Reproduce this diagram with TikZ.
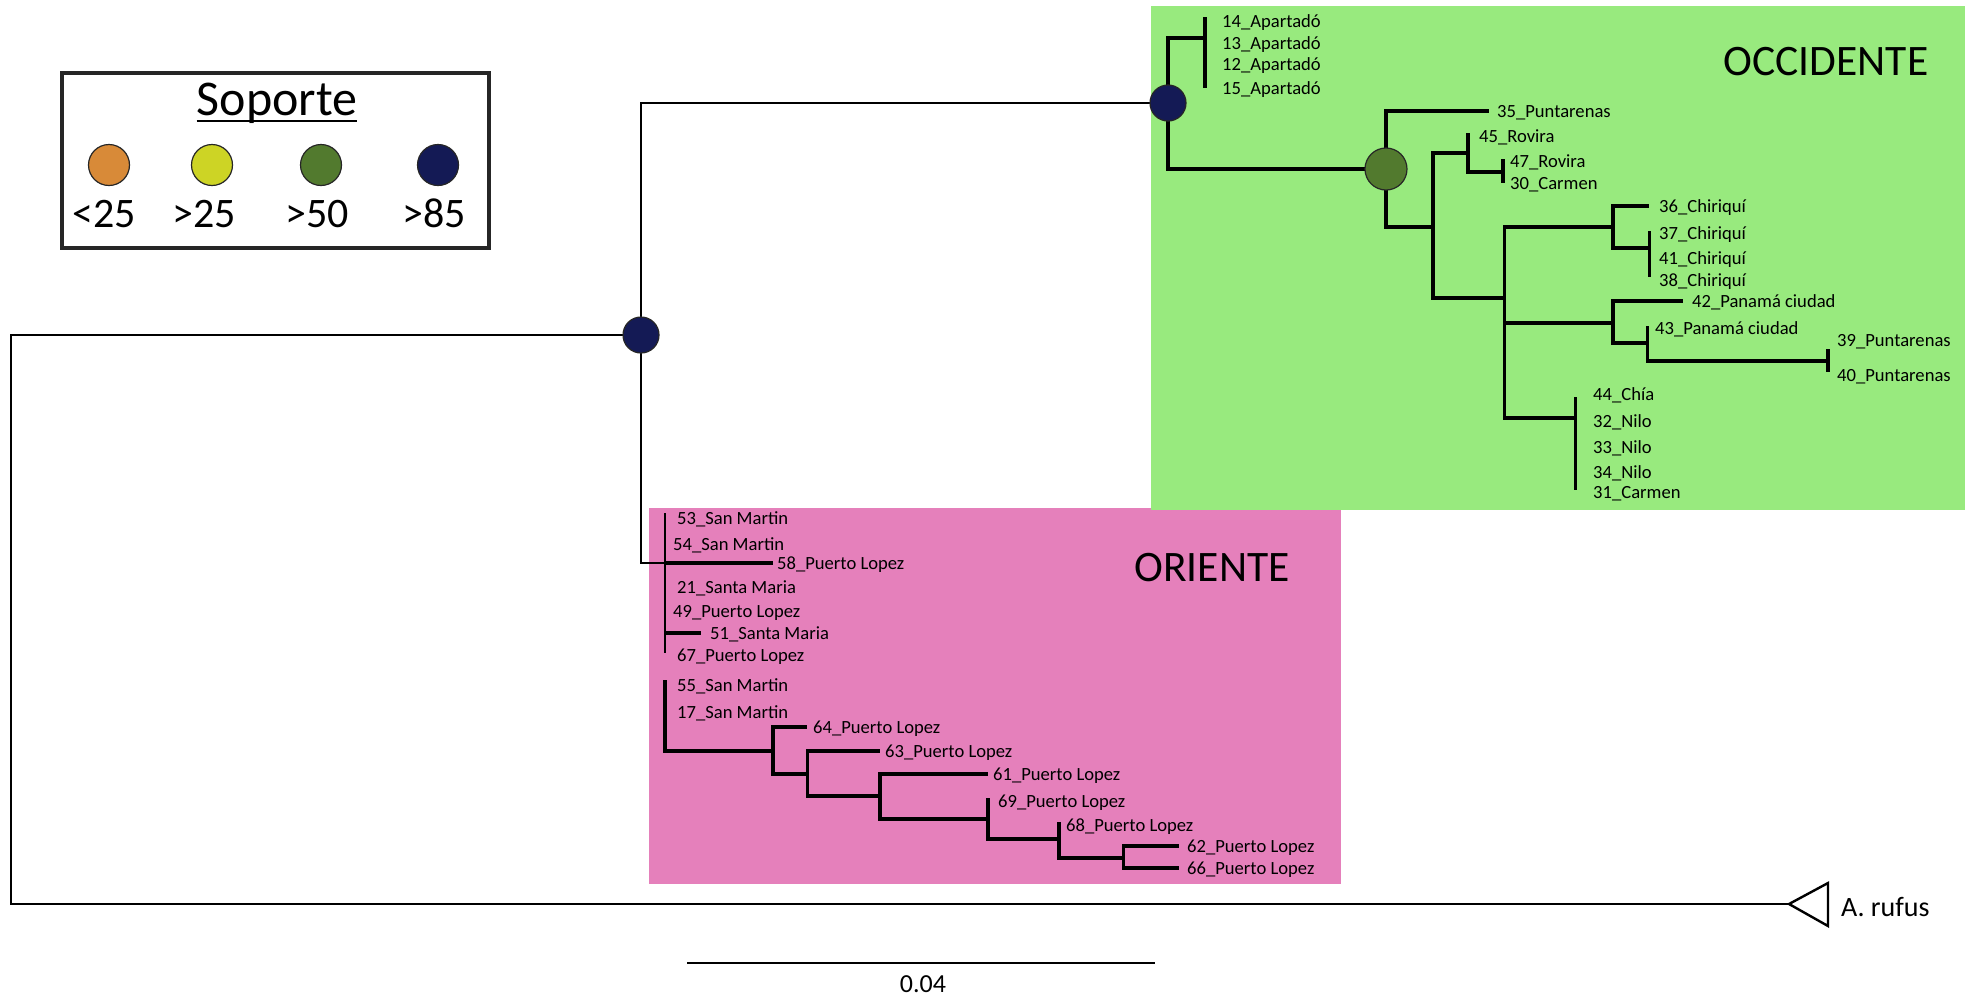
\documentclass[tikz,border=0pt]{standalone}
\usepackage{fontspec}
\setmainfont{Carlito}
\definecolor{occgreen}{RGB}{152,234,126}
\definecolor{oripink}{RGB}{229,128,187}
\definecolor{supnavy}{RGB}{20,26,85}
\definecolor{supgreen}{RGB}{82,122,46}
\definecolor{supyellow}{RGB}{205,212,37}
\definecolor{suporange}{RGB}{216,138,56}

\begin{document}
\begin{tikzpicture}[x=1pt, y=-1pt,
    branch/.style={line width=2.8pt, black},
    clade/.style={line width=3.4pt, black},
    tolabel/.style={clade, shorten >=#1},
    tolabel/.default=6pt,
    leaf/.style={anchor=west, inner sep=0pt, text height=12pt, text depth=0pt, font=\fontsize{18.6}{20}\selectfont},
    title/.style={inner sep=0pt, text height=28pt, text depth=0pt, font=\fontsize{43.5}{46}\selectfont},
    supdot/.style={circle, draw=black!85, line width=1.2pt, inner sep=0pt, minimum size=#1},
    legendbox/.style={rectangle, draw=black!85, line width=4pt, minimum width=427pt, minimum height=175pt},
    legendnum/.style={inner sep=0pt, text height=27pt, text depth=0pt, font=\fontsize{42}{44}\selectfont}
]
\useasboundingbox (0,0) rectangle (1975,997);

% Clade backgrounds
\fill[oripink] (648.5,508) rectangle (1340.7,884);
\fill[occgreen] (1151,6) rectangle (1965,510);

% Legend
\node[legendbox] (legend) at (275.5,160.5) {};
\node[inner sep=0pt, text height=32pt, text depth=0pt, font=\fontsize{50}{52}\selectfont] (soporte) at (277,99) {Soporte};
\draw[line width=1.8pt] ([yshift=-6pt]soporte.base west) -- ([yshift=-6pt]soporte.base east);
\node[supdot=41pt, fill=suporange] (d25a) at (109,165) {};
\node[supdot=41pt, fill=supyellow] (d25b) at (212,165) {};
\node[supdot=41pt, fill=supgreen] (d50) at (321,165) {};
\node[supdot=41pt, fill=supnavy] (d85) at (438,165) {};
\node[legendnum] (t25a) at (104,213.5) {<25};
\node[legendnum] (t25b) at (204.5,213.5) {>25};
\node[legendnum] (t50) at (317,213.5) {>50};
\node[legendnum] (t85) at (434,213.5) {>85};

% Backbone
\coordinate (root) at (11,619);
\coordinate (n1) at (641,335);
\coordinate (n2) at (1168,103);
\coordinate (n3) at (1386,169);
\coordinate (tip) at (1789,904);
\draw[branch] (root) |- (n1);
\draw[branch] (root) |- (tip);
\draw[branch] (n1) |- (n2);
\draw[line width=2.4pt, line join=miter] (tip) -- (1828,883) -- (1828,926) -- cycle;
\node[anchor=west, inner sep=0pt, text height=18pt, text depth=0pt, font=\fontsize{28}{30}\selectfont] (rufus) at (1841,907) {A. rufus};

% Occidente labels
\node[title] (occ) at (1826,61) {OCCIDENTE};
\node[leaf] (l14) at (1222,21) {14\_Apartadó};
\node[leaf] (l13) at (1222,43) {13\_Apartadó};
\node[leaf] (l12) at (1222,64) {12\_Apartadó};
\node[leaf] (l15) at (1222,88) {15\_Apartadó};
\node[leaf] (l35) at (1497,111) {35\_Puntarenas};
\node[leaf] (l45) at (1479,136) {45\_Rovira};
\node[leaf] (l47) at (1510,161) {47\_Rovira};
\node[leaf] (l30) at (1510,183) {30\_Carmen};
\node[leaf] (l36) at (1659,206) {36\_Chiriquí};
\node[leaf] (l37) at (1659,233) {37\_Chiriquí};
\node[leaf] (l41) at (1659,258) {41\_Chiriquí};
\node[leaf] (l38) at (1659,280) {38\_Chiriquí};
\node[leaf] (l42) at (1692,301) {42\_Panamá ciudad};
\node[leaf] (l43) at (1655,328) {43\_Panamá ciudad};
\node[leaf] (l39) at (1837,340) {39\_Puntarenas};
\node[leaf] (l40) at (1837,375) {40\_Puntarenas};
\node[leaf] (l44) at (1593,394) {44\_Chía};
\node[leaf] (l32) at (1593,421) {32\_Nilo};
\node[leaf] (l33) at (1593,447) {33\_Nilo};
\node[leaf] (l34) at (1593,472) {34\_Nilo};
\node[leaf] (l31) at (1593,492) {31\_Carmen};

% Occidente branches
\coordinate (apa) at (1205,38);
\coordinate (c1) at (1433,227);
\coordinate (rov) at (1468,153);
\coordinate (rc) at (1503,172);
\coordinate (c2) at (1504.5,298);
\coordinate (chi) at (1613,227);
\coordinate (chi2) at (1649.5,248);
\coordinate (pan) at (1613,323);
\coordinate (pan2) at (1647.5,343);
\coordinate (punt) at (1828,361);
\coordinate (nilo) at (1575.5,418);
\draw[clade] (n2) |- (apa);
\draw[clade] (1205,17) -- (1205,88);
\draw[clade] (n2) |- (n3);
\draw[tolabel=8pt] (n3) |- (l35.west);
\draw[clade] (n3) |- (c1);
\draw[clade] (c1) |- (rov);
\draw[clade] (1468,133) -- (rov) |- (rc);
\draw[clade] (1503,159) -- (1503,183);
\draw[clade] (c1) |- (c2);
\draw[clade] (c2) |- (chi);
\draw[tolabel=10pt] (chi) |- (l36.west);
\draw[clade] (chi) |- (chi2);
\draw[clade] (1649.5,231) -- (1649.5,277);
\draw[clade] (c2) |- (pan);
\draw[tolabel=9pt] (pan) |- (l42.west);
\draw[clade] (pan) |- (pan2);
\draw[clade] (1647.5,326) -- (pan2) |- (punt);
\draw[clade] (1828,349) -- (1828,372);
\draw[clade] (c2) |- (nilo);
\draw[clade] (1575.5,397) -- (1575.5,490);

% Oriente labels
\node[title] (orient) at (1212,567) {ORIENTE};
\node[leaf] (l53) at (677,518) {53\_San Martin};
\node[leaf] (l54) at (673,544) {54\_San Martin};
\node[leaf] (l58) at (777,563) {58\_Puerto Lopez};
\node[leaf] (l21) at (677,587) {21\_Santa Maria};
\node[leaf] (l49) at (673,611) {49\_Puerto Lopez};
\node[leaf] (l51) at (710,633) {51\_Santa Maria};
\node[leaf] (l67) at (677,655) {67\_Puerto Lopez};
\node[leaf] (l55) at (677,685) {55\_San Martin};
\node[leaf] (l17) at (677,712) {17\_San Martin};
\node[leaf] (l64) at (813,727) {64\_Puerto Lopez};
\node[leaf] (l63) at (885,751) {63\_Puerto Lopez};
\node[leaf] (l61) at (993,774) {61\_Puerto Lopez};
\node[leaf] (l69) at (998,801) {69\_Puerto Lopez};
\node[leaf] (l68) at (1066,825) {68\_Puerto Lopez};
\node[leaf] (l62) at (1187,846) {62\_Puerto Lopez};
\node[leaf] (l66) at (1187,868) {66\_Puerto Lopez};

% Oriente branches
\coordinate (ori) at (665,563);
\coordinate (p1) at (773,751);
\coordinate (p2) at (807.5,774);
\coordinate (p3) at (880,796);
\coordinate (p4) at (988,819);
\coordinate (p5) at (1059,839);
\coordinate (p6) at (1123.5,858);
\draw[branch] (n1) |- (ori);
\draw[line width=2.4pt] (665,513) -- (665,653);
\draw[tolabel=4pt] (ori) -- (l58.west);
\draw[tolabel=9pt] (ori |- l51.west) -- (l51.west);
\draw[clade] (665,680) |- (p1);
\draw[tolabel] (p1) |- (l64.west);
\draw[clade] (p1) |- (p2);
\draw[tolabel=5pt] (p2) |- (l63.west);
\draw[clade] (p2) |- (p3);
\draw[tolabel=5pt] (p3) |- (l61.west);
\draw[clade] (p3) |- (p4);
\draw[clade] (988,798) -- (p4) |- (p5);
\draw[clade] (1059,822) -- (p5) |- (p6);
\draw[tolabel=8pt] (p6) |- (l62.west);
\draw[tolabel=8pt] (p6) |- (l66.west);

% Support values
\node[supdot=36pt, fill=supnavy] (s1) at (n1) {};
\node[supdot=36pt, fill=supnavy] (s2) at (n2) {};
\node[supdot=42pt, fill=supgreen] (s3) at (n3) {};

% Scale bar
\coordinate (sbl) at (687,963);
\coordinate (sbr) at (1155,963);
\draw[branch] (sbl) -- (sbr);
\node[inner sep=0pt, text height=17pt, text depth=0pt, font=\fontsize{26}{28}\selectfont] (scale) at (923,984) {0.04};

\end{tikzpicture}
\end{document}
